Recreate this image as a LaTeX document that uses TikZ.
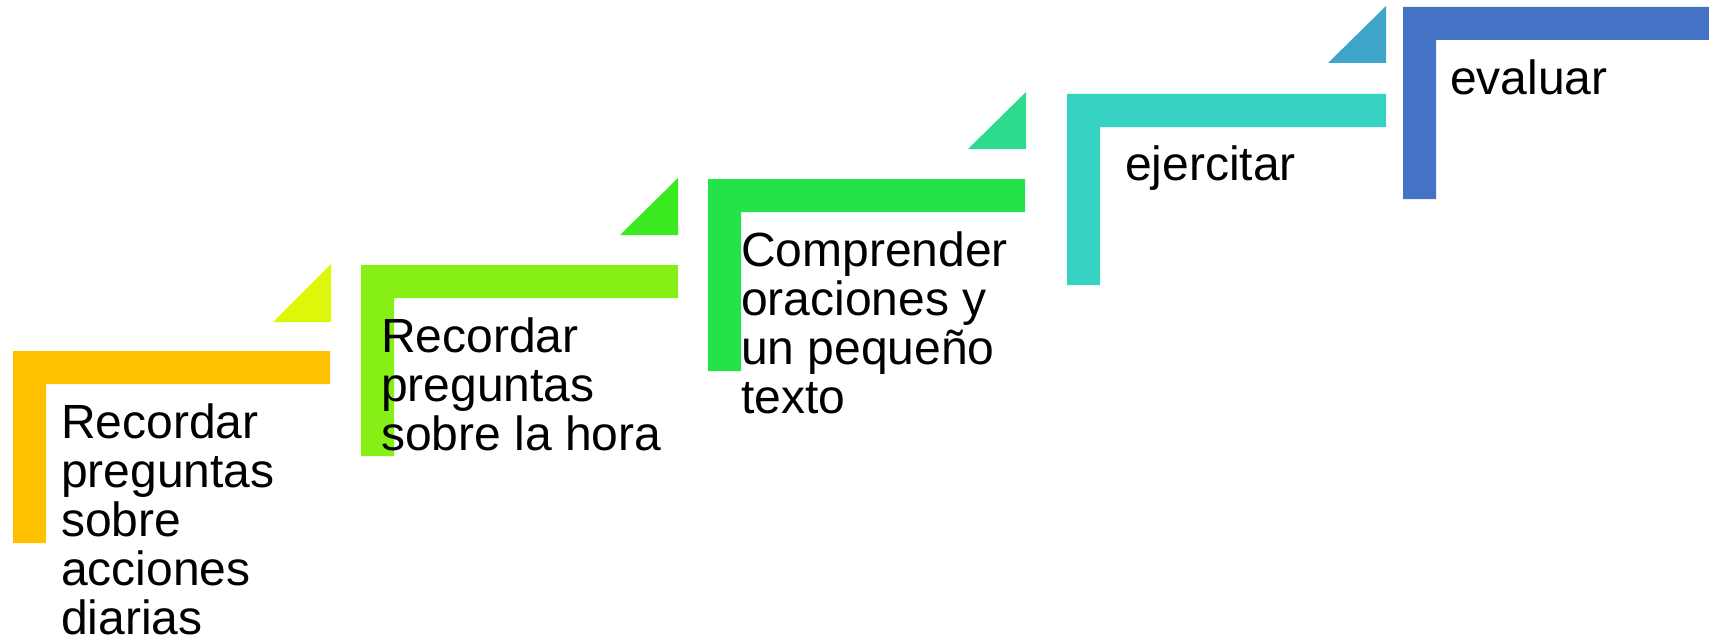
\documentclass[tikz,border=0pt]{standalone}
\usepackage{fontspec}
\setmainfont{Liberation Sans}
\definecolor{cOrange}{HTML}{FFC000}
\definecolor{cLime}{HTML}{86EF15}
\definecolor{cGreen}{HTML}{23E24A}
\definecolor{cTeal}{HTML}{36D3C5}
\definecolor{cBlue}{HTML}{4472C4}
\definecolor{tYellow}{HTML}{DDF70A}
\definecolor{tGreen}{HTML}{3BE921}
\definecolor{tMint}{HTML}{2DDA8E}
\definecolor{tSky}{HTML}{3EA4CA}
\tikzset{
  stepfill/.style={fill=#1, draw=none},
  steptext/.style={anchor=base west, inner sep=0pt, outer sep=0pt, text=black,
    font=\fontsize{48}{49}\selectfont},
}
\newcommand{\stepL}[5]{% color, left, top, right, bottom
  \fill[stepfill=#1] (#2,#3) -- (#4,#3) -- (#4,#3+33) -- (#2+33,#3+33) -- (#2+33,#5) -- (#2,#5) -- cycle;}
\newcommand{\stepT}[4]{% color, left, top, bottom ; right = left+58
  \fill[stepfill=#1] (#2,#4) -- (#2+58,#4) -- (#2+58,#3) -- cycle;}
\newcommand{\lines}[1]{\parbox[t]{400pt}{\raggedright #1}}
\begin{document}
\begin{tikzpicture}[x=1pt,y=-1pt]
\useasboundingbox (0,0) rectangle (1709,642);
\clip (0,0) rectangle (1709,642);
% L shapes
\stepL{cOrange}{13}{351}{330}{543}
\stepL{cLime}{361}{265}{678}{456}
\stepL{cGreen}{708}{179}{1025}{371}
\stepL{cTeal}{1067}{94}{1386}{285}
\stepL{cBlue}{1403}{7}{1720}{199}
% triangles
\stepT{tYellow}{273}{264}{322}
\stepT{tGreen}{620}{178}{235}
\stepT{tMint}{968}{92}{149}
\stepT{tSky}{1328}{6}{63}
% texts
\node[steptext] (t1) at (61,438) {\lines{Recordar\\preguntas\\sobre\\acciones\\diarias}};
\node[steptext] (t2) at (381,352) {\lines{Recordar\\preguntas\\sobre la hora}};
\node[steptext] (t3) at (741,266) {\lines{Comprender\\oraciones y\\un pequeño\\texto}};
\node[steptext] (t4) at (1125,180) {ejercitar};
\node[steptext] (t5) at (1450,95) {evaluar};
\end{tikzpicture}
\end{document}
